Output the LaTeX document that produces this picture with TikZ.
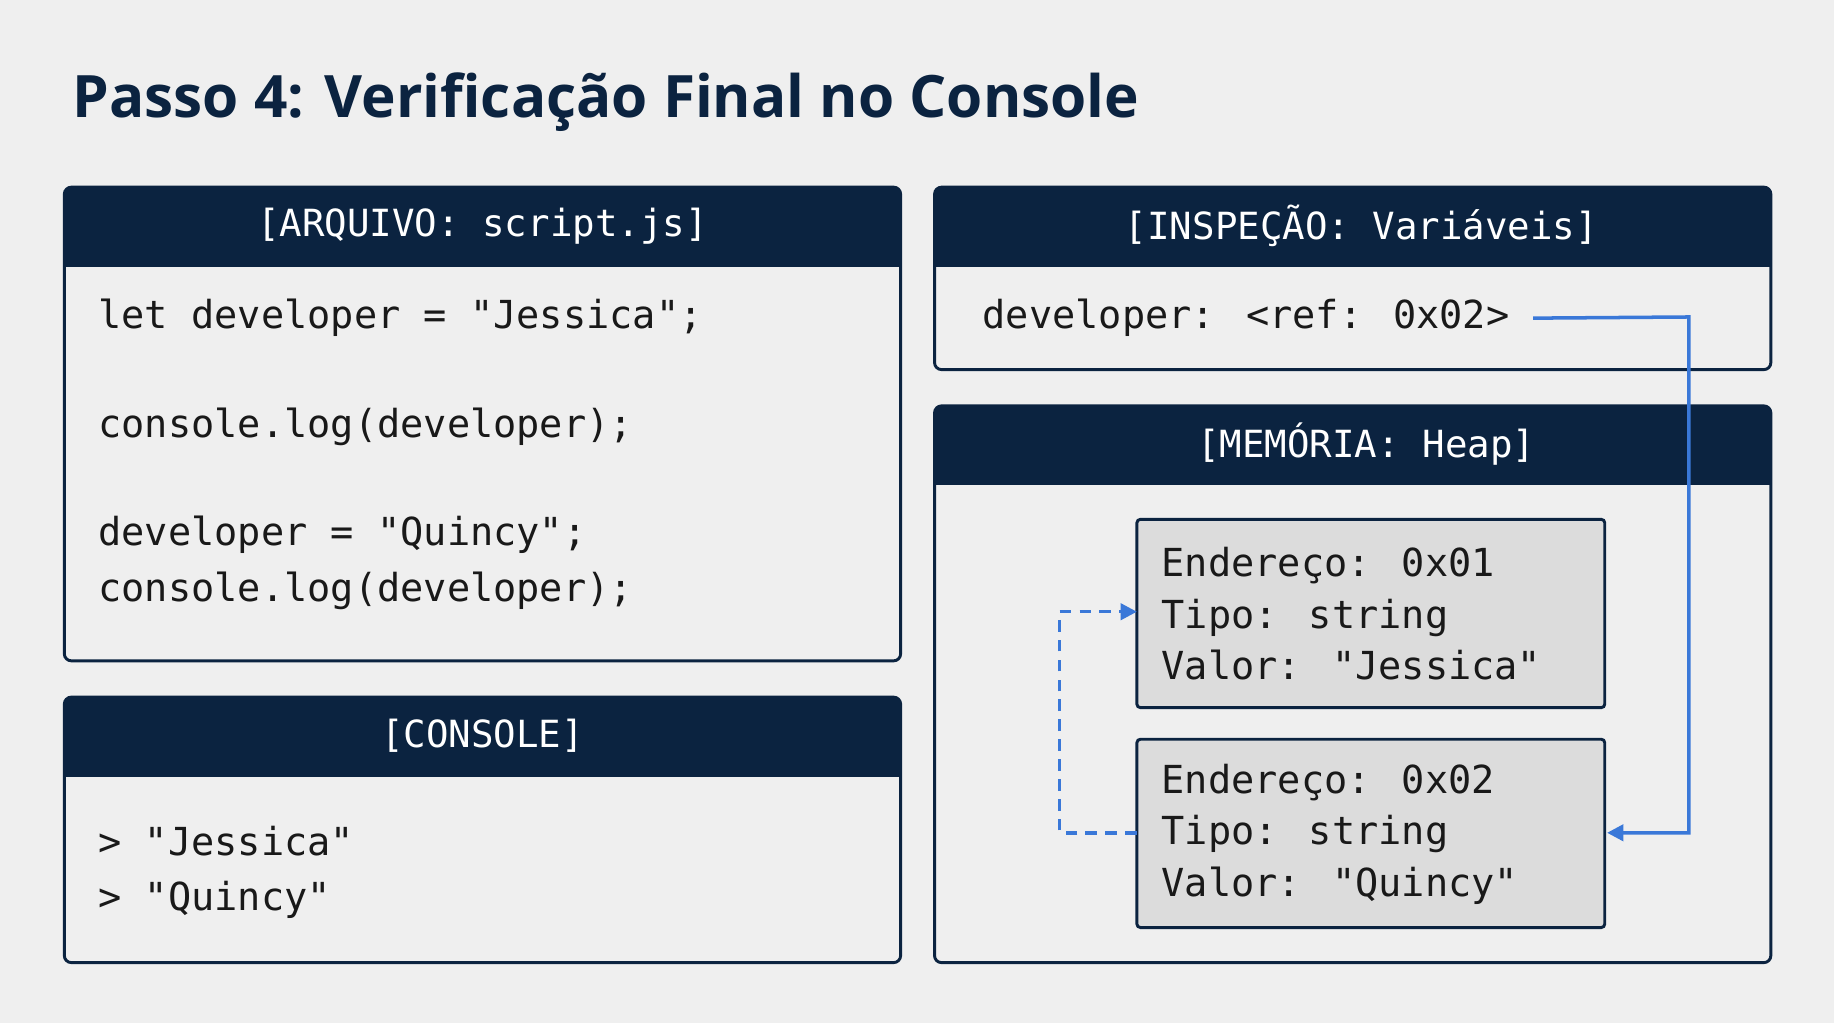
\documentclass[tikz,border=0pt]{standalone}
\usepackage{fontspec}
\setmainfont{Liberation Sans}
\newfontfamily\codef{DejaVu Sans Mono}
\newfontfamily\titf{Open Sans}
\usetikzlibrary{arrows.meta}
\definecolor{navy}{HTML}{0B2340}
\definecolor{bg}{HTML}{EFEFEF}
\definecolor{memfill}{HTML}{DCDCDC}
\definecolor{blu}{HTML}{3A78D8}
\begin{document}
\begin{tikzpicture}[x=1pt,y=-1pt,
  panel/.style={draw=navy,line width=2.5pt,fill=bg,rounded corners=6pt},
  head/.style={fill=navy,rounded corners=6pt},
  htxt/.style={text=white,font=\codef\fontsize{32}{36}\selectfont},
  code/.style={anchor=west,text=black!90,font=\codef\fontsize{33}{38}\selectfont,inner sep=0pt},
  mem/.style={draw=navy,line width=2.5pt,fill=memfill,rounded corners=3pt},
  arr/.style={draw=blu,line width=3pt,-{Triangle[length=14pt,width=14pt]}}]
\fill[bg] (0,0) rectangle (1568,875);
\useasboundingbox (0,0) rectangle (1568,875);
\node[anchor=west,text=navy,font=\titf\bfseries\fontsize{50}{56}\selectfont,inner sep=0pt] (title) at (62,87) {Passo 4: Verificação Final no Console};
% panels
\foreach \n/\xa/\ya/\xb/\yb in {p1/55/160/770/565, p2/55/596/770/823, p3/799/160/1514/316, p4/799/347/1514/823}{
  \draw[panel] (\xa,\ya) rectangle (\xb,\yb);
  \fill[navy,rounded corners=6pt] (\xa,\ya) rectangle (\xb,\ya+40);
  \fill[navy] (\xa,\ya+20) rectangle (\xb,\ya+68);
}
\node[htxt] (h1) at (412.5,193) {[ARQUIVO: script.js]};
\node[htxt] (h2) at (412.5,629) {[CONSOLE]};
\node[htxt] (h3) at (1164,193) {[INSPEÇÃO: Variáveis]};
\node[htxt] (h4) at (1168,380) {[MEMÓRIA: Heap]};
\node[code] (c1) at (84,272) {let developer = "Jessica";};
\node[code] (c2) at (84,365) {console.log(developer);};
\node[code] (c3) at (84,457) {developer = "Quincy";};
\node[code] (c4) at (84,505) {console.log(developer);};
\node[code] (o1) at (84,719) {> "Jessica"};
\node[code] (o2) at (84,769) {> "Quincy"};
\node[code] (v1) at (840,272) {developer: <ref: 0x02>};
\draw[mem] (972,444) rectangle (1372,605);
\draw[mem] (972,632) rectangle (1372,793);
\coordinate (m1w) at (972,523);
\coordinate (m2w) at (972,712);
\coordinate (m2e) at (1374,712);
\node[code,align=left] (m1) at (993,525) {Endereço: 0x01\\[6pt]Tipo: string\\[6pt]Valor: "Jessica"};
\node[code,align=left] (m2) at (993,713) {Endereço: 0x02\\[6pt]Tipo: string\\[6pt]Valor: "Quincy"};
\draw[arr] (v1.east)++(20,0) -- (1444,271) -- (1444,712) -- (m2e);
\draw[arr,dashed,dash pattern=on 10pt off 7pt] (m2w) -- (906,712) -- (906,523) -- (m1w);
\end{tikzpicture}
\end{document}
